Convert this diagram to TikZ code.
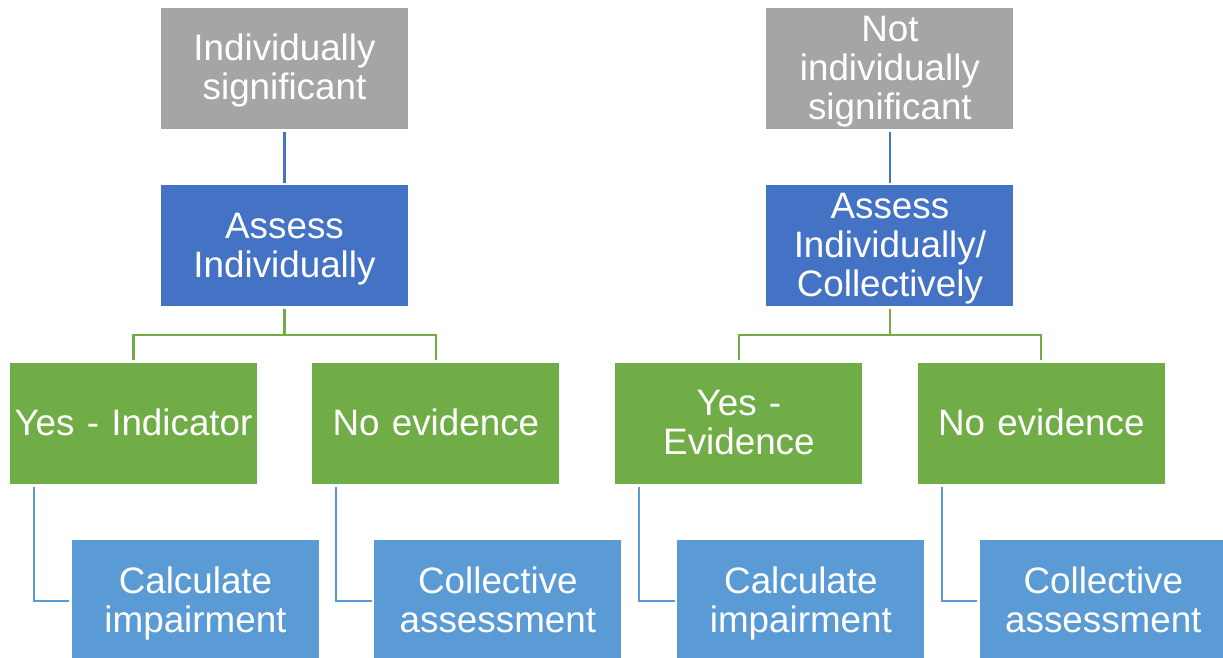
\documentclass[tikz,border=0pt]{standalone}
\usepackage{fontspec}
\setmainfont{Liberation Sans}
\usepackage{tikz}
\usetikzlibrary{positioning}

\definecolor{boxgray}{HTML}{A5A5A5}
\definecolor{boxblue}{HTML}{4472C4}
\definecolor{boxgreen}{HTML}{70AD47}
\definecolor{boxsky}{HTML}{5B9BD5}

\newcommand{\boxstrut}{\rule[-7.7pt]{0pt}{39pt}}

\begin{document}
\begin{tikzpicture}[
    box/.style={text width=243pt, minimum width=247pt, minimum height=121pt, inner sep=2pt,
        align=center, text=white, font=\fontsize{36.8}{39}\selectfont,
        execute at begin node=\boxstrut, execute at end node=\boxstrut},
    link/.style={line width=2.2pt, shorten <=2.5pt, shorten >=2.5pt}]
    \useasboundingbox (0,0) rectangle (1223pt,-658pt);
    \clip (0,0) rectangle (1223pt,-658pt);

    % left tree
    \node[box, fill=boxgray] (sigl) at (284.5pt,-68.5pt)
        {Individually\\significant};
    \node[box, fill=boxblue, below=56pt of sigl] (assl)
        {Assess\\Individually};
    \node[box, fill=boxgreen, below=56pt of assl, xshift=-151pt] (yesl)
        {Yes - Indicator};
    \node[box, fill=boxgreen, right=55pt of yesl] (nol)
        {No evidence};
    \node[box, fill=boxsky, below=56pt of yesl, xshift=62pt] (calcl)
        {Calculate\\impairment};
    \node[box, fill=boxsky, below=56pt of nol, xshift=62pt] (coll)
        {Collective\\assessment};

    % right tree
    \node[box, fill=boxgray, right=358pt of sigl] (sigr)
        {Not\\individually\\significant};
    \node[box, fill=boxblue, below=56pt of sigr] (assr)
        {Assess\\Individually/\\Collectively};
    \node[box, fill=boxgreen, below=56pt of assr, xshift=-151pt] (yesr)
        {Yes -\\Evidence};
    \node[box, fill=boxgreen, right=55pt of yesr] (nor)
        {No evidence};
    \node[box, fill=boxsky, below=56pt of yesr, xshift=62pt] (calcr)
        {Calculate\\impairment};
    \node[box, fill=boxsky, below=56pt of nor, xshift=62pt] (colr)
        {Collective\\assessment};

    \draw[link, boxblue] (sigl) -- (assl);
    \draw[link, boxblue] (sigr) -- (assr);

    \draw[link, boxgreen] (assl.south) -- ++(0,-28pt) -| (yesl.north);
    \draw[link, boxgreen] (assl.south) -- ++(0,-28pt) -| (nol.north);
    \draw[link, boxgreen] (assr.south) -- ++(0,-28pt) -| (yesr.north);
    \draw[link, boxgreen] (assr.south) -- ++(0,-28pt) -| (nor.north);

    \draw[link, boxsky] ([xshift=24pt]yesl.south west) |- (calcl.west);
    \draw[link, boxsky] ([xshift=24pt]nol.south west) |- (coll.west);
    \draw[link, boxsky] ([xshift=24pt]yesr.south west) |- (calcr.west);
    \draw[link, boxsky] ([xshift=24pt]nor.south west) |- (colr.west);

\end{tikzpicture}
\end{document}
